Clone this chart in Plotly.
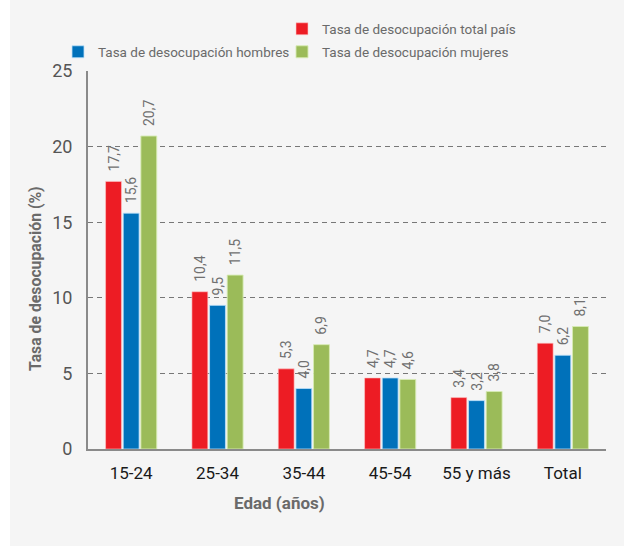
import plotly.graph_objects as go

categories = ["15-24", "25-34", "35-44", "45-54", "55 y más", "Total"]
total_pais = [17.7, 10.4, 5.3, 4.7, 3.4, 7.0]
hombres = [15.6, 9.5, 4.0, 4.7, 3.2, 6.2]
mujeres = [20.7, 11.5, 6.9, 4.6, 3.8, 8.1]

names = ["Tasa de desocupación total país", "Tasa de desocupación hombres", "Tasa de desocupación mujeres"]
colors = ["#ED1C24", "#0071BA", "#9BBB59"]
outlines = ["rgba(255,200,200,0.6)", "rgba(190,225,250,0.8)", "rgba(215,235,180,0.9)"]
legends = ["legend", "legend2", "legend3"]

FONT = "Roboto"
PAD = "\u00a0\u00a0"

def fmt(v):
    return PAD + f"{v:.1f}".replace(".", ",")

fig = go.Figure()
for vals, name, col, oc, lg in zip([total_pais, hombres, mujeres], names, colors, outlines, legends):
    fig.add_trace(go.Bar(
        x=categories, y=vals, name=name,
        marker=dict(color=col, line=dict(color=oc, width=1)),
        text=[fmt(v) for v in vals],
        textposition="outside", textangle=-90,
        constraintext="none", cliponaxis=False,
        textfont=dict(family=FONT, size=14, color="#707070"),
        legend=lg, hoverinfo="skip",
    ))

W, H = 624, 546
L, R, T, B = 88, 18, 71, 97
pw = W - L - R
ph = H - T - B

def px2x(px):
    return (px - L) / pw

def py2y(py):
    return (H - B - py) / ph

LEG_FONT = dict(family=FONT, size=13.5, color="#6A6A6A")

def leg(xpx, ypx):
    return dict(x=px2x(xpx), y=py2y(ypx), xanchor="left", yanchor="middle",
                orientation="v", bgcolor="rgba(0,0,0,0)", font=LEG_FONT)

fig.update_layout(
    width=W, height=H, autosize=False,
    margin=dict(l=L, r=R, t=T, b=B, pad=0),
    paper_bgcolor="#F5F5F5", plot_bgcolor="rgba(0,0,0,0)",
    barmode="group", bargap=0.387, bargroupgap=0.1,
    font=dict(family=FONT, color="#666666"),
    showlegend=True,
    legend=leg(282, 29),
    legend2=leg(58, 52),
    legend3=leg(282, 52),
    xaxis=dict(showline=True, linecolor="#8A8A8A", linewidth=2, showgrid=False,
               ticks="", ticklabelstandoff=8,
               tickfont=dict(family=FONT, size=17, color="#1A1A1A"),
               zeroline=False),
    yaxis=dict(range=[0, 25], tickvals=[0, 5, 10, 15, 20, 25],
               showline=True, linecolor="#8A8A8A", linewidth=2,
               showgrid=True, gridcolor="#777777", gridwidth=1, griddash="5px,4px",
               zeroline=False, ticks="", ticklabelstandoff=10,
               tickfont=dict(family=FONT, size=18, color="#555555")),
    shapes=[dict(type="rect", xref="paper", yref="paper",
                 x0=px2x(-5), x1=px2x(10), y0=py2y(H + 5), y1=py2y(-5),
                 fillcolor="white", line=dict(width=0), layer="below")],
    annotations=[
        dict(text="<b>Edad (años)</b>", xref="paper", yref="paper",
             x=px2x(279), y=py2y(503), xanchor="center", yanchor="middle",
             showarrow=False, font=dict(family=FONT, size=17, color="#6A6A6A")),
        dict(text="<b>Tasa de desocupación (%)</b>", xref="paper", yref="paper",
             x=px2x(35), y=py2y(279), xanchor="center", yanchor="middle",
             textangle=-90, showarrow=False,
             font=dict(family=FONT, size=15.8, color="#6A6A6A")),
    ],
)

fig.write_html("out.html", config={"displayModeBar": False},
               post_script="document.body.style.margin='0';document.body.style.padding='0';")
